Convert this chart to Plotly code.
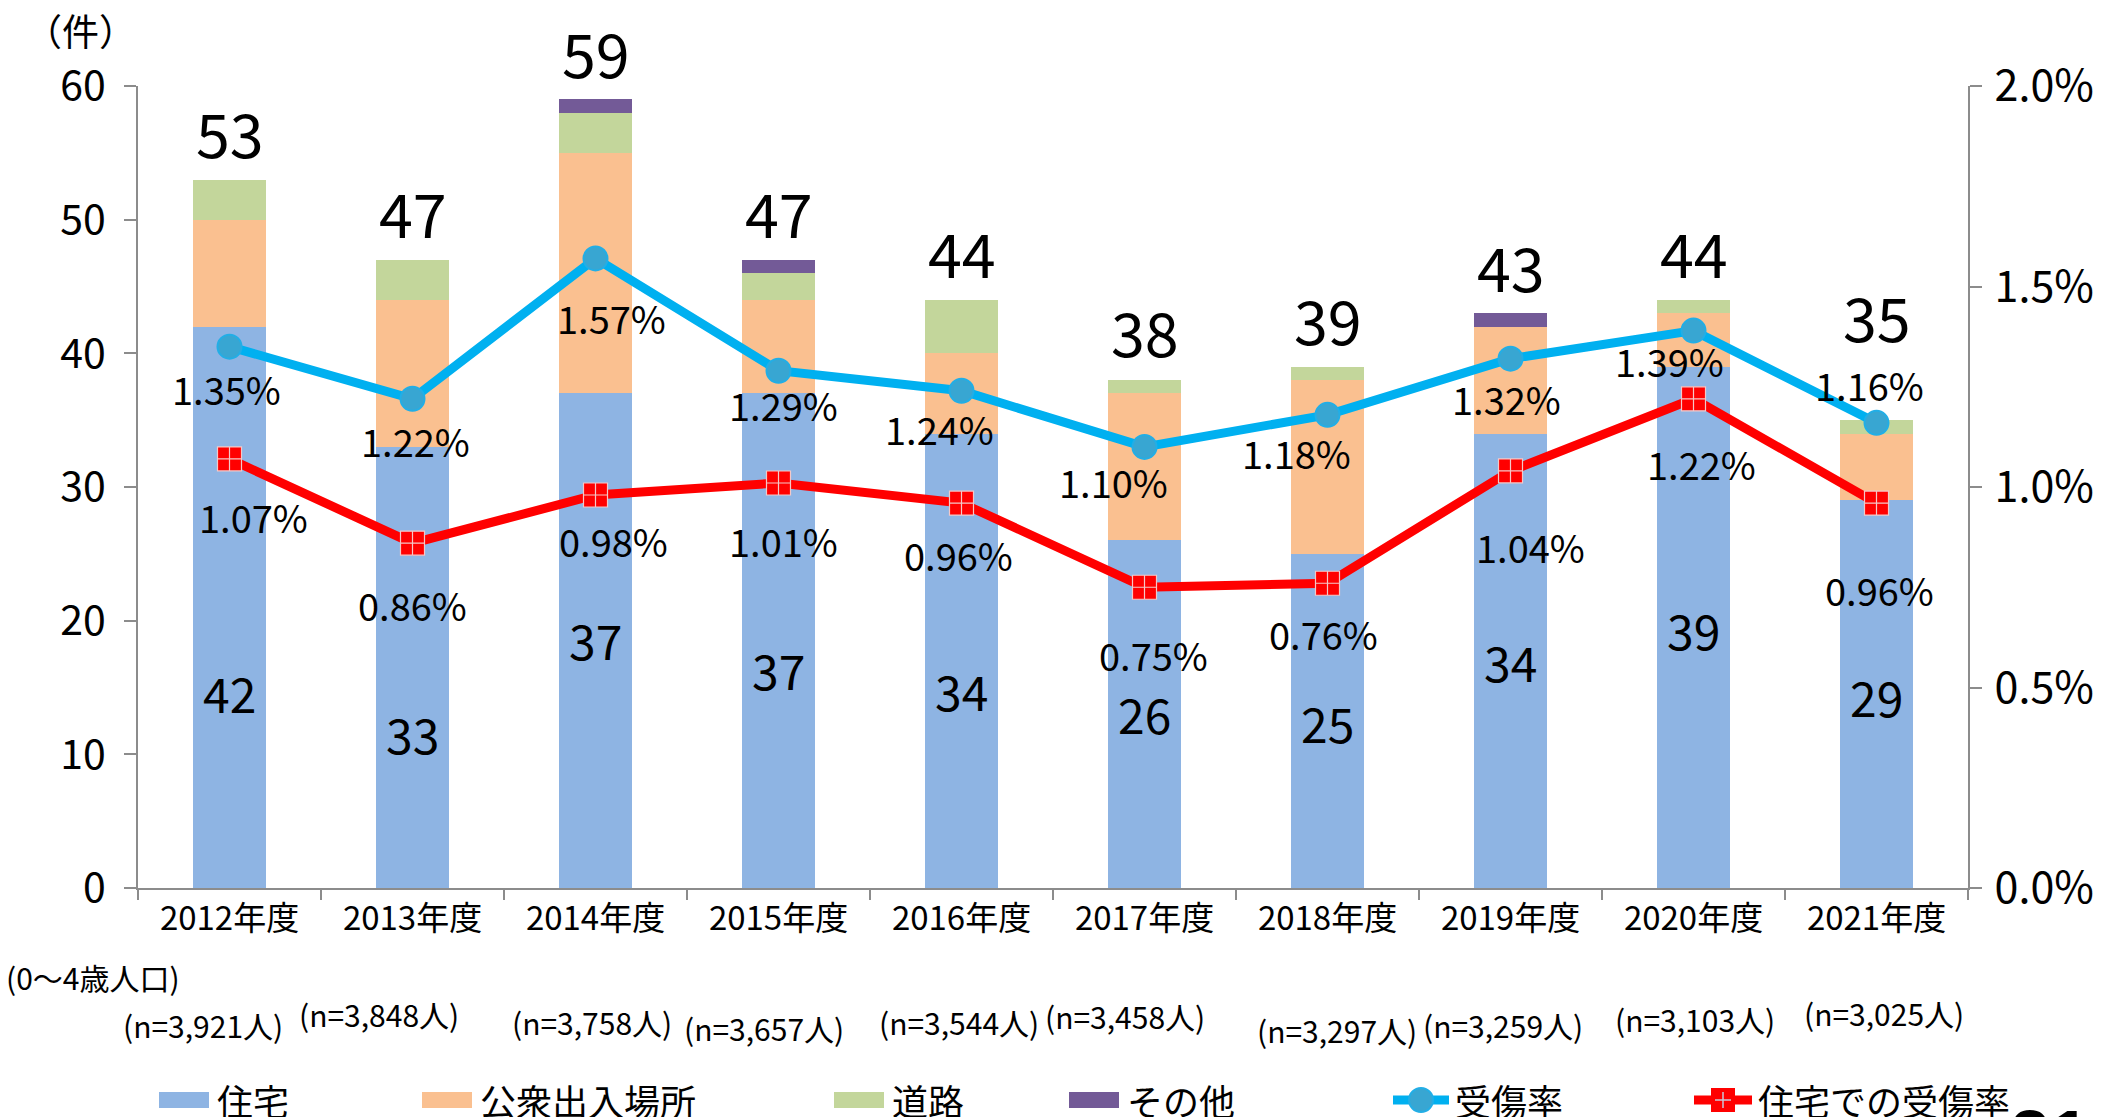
import plotly.graph_objects as go

# ---------------- data ----------------
years = ["2012年度", "2013年度", "2014年度", "2015年度", "2016年度",
         "2017年度", "2018年度", "2019年度", "2020年度", "2021年度"]
house = [42, 33, 37, 37, 34, 26, 25, 34, 39, 29]          # 住宅
public = [8, 11, 18, 7, 6, 11, 13, 8, 4, 5]                # 公衆出入場所
road = [3, 3, 3, 2, 4, 1, 1, 0, 1, 1]                      # 道路
other = [0, 0, 1, 1, 0, 0, 0, 1, 0, 0]                     # その他
rate_all = [1.35, 1.22, 1.57, 1.29, 1.24, 1.10, 1.18, 1.32, 1.39, 1.16]     # 受傷率 (%)
rate_house = [1.07, 0.86, 0.98, 1.01, 0.96, 0.75, 0.76, 1.04, 1.22, 0.96]   # 住宅での受傷率 (%)
population = ["3,921", "3,848", "3,758", "3,657", "3,544",
              "3,458", "3,297", "3,259", "3,103", "3,025"]                 # 0〜4歳人口

totals = [a + b + c + d for a, b, c, d in zip(house, public, road, other)]

# ---------------- styles / label placement ----------------
FONT = "Noto Sans CJK JP"
C_HOUSE, C_PUBLIC, C_ROAD, C_OTHER = "#8EB4E3", "#FAC090", "#C3D69B", "#735A97"
C_RATE, C_RATE_H = "#00B0F0", "#FF0000"
AXIS = "#8C8C8C"

W, H = 2116, 1117
ML, MR, MT, MB = 138, 148, 86, 229
PW, PH = W - ML - MR, H - MT - MB


def px_x(p):  # pixel -> paper x
    return (p - ML) / PW


def px_y(p):  # pixel -> paper y
    return (H - MB - p) / PH


total_yshift = [48, 48, 48, 48, 48, 50, 48, 48, 48, 105]
house_label_y = [14.7, 11.6, 18.6, 16.4, 14.8, 13.1, 12.4, 17.0, 19.4, 14.4]
rate_dx = [-3, 3, 16, 5, -22, -31, -31, -4, -24, -7]
rate_dy = [42, 42, 59, 34, 38, 35, 38, 40, 30, -38]
rateh_dx = [24, 0, 18, 5, -3, 9, -4, 20, 8, 3]
rateh_dy = [58, 61, 45, 58, 51, 67, 50, 76, 65, 86]
n_dx = [-27, -34, -4, -15, -3, -20, 9, -8, 1, 7]
n_dy = [3, -8, 0, 6, 0, -6, 8, 3, -3, -9]

bar_series = [("住宅", house, C_HOUSE), ("公衆出入場所", public, C_PUBLIC),
              ("道路", road, C_ROAD), ("その他", other, C_OTHER)]

fig = go.Figure()
for name, vals, col in bar_series:
    fig.add_trace(go.Bar(x=years, y=vals, name=name, marker=dict(color=col, line=dict(width=0)),
                         yaxis="y"))

fig.add_trace(go.Scatter(
    x=years, y=rate_all, name="受傷率", mode="lines+markers", yaxis="y2",
    line=dict(color=C_RATE, width=9),
    marker=dict(symbol="circle", size=24, color="#38A6D2", line=dict(color="#22AEE6", width=2))))
fig.add_trace(go.Scatter(
    x=years, y=rate_house, name="住宅での受傷率", mode="lines+markers", yaxis="y2",
    line=dict(color=C_RATE_H, width=9),
    marker=dict(symbol="square-cross", size=24, color=C_RATE_H,
                line=dict(color="#F4C8C8", width=1.2))))

ann = []
for i, y in enumerate(years):
    ann.append(dict(x=y, y=totals[i], xref="x", yref="y", text=str(totals[i]), showarrow=False,
                    xanchor="center", yanchor="middle", yshift=total_yshift[i],
                    font=dict(size=61, color="#000", family=FONT)))
    ann.append(dict(x=y, y=house_label_y[i], xref="x", yref="y", text=str(house[i]), showarrow=False,
                    xanchor="center", yanchor="middle",
                    font=dict(size=48, color="#000", family=FONT)))
    ann.append(dict(x=y, y=rate_all[i], xref="x", yref="y2", text=f"{rate_all[i]:.2f}%",
                    showarrow=False, xanchor="center", yanchor="middle",
                    xshift=rate_dx[i], yshift=-rate_dy[i],
                    font=dict(size=38, color="#000", family=FONT)))
    ann.append(dict(x=y, y=rate_house[i], xref="x", yref="y2", text=f"{rate_house[i]:.2f}%",
                    showarrow=False, xanchor="center", yanchor="middle",
                    xshift=rateh_dx[i], yshift=-rateh_dy[i],
                    font=dict(size=38, color="#000", family=FONT)))
    ann.append(dict(x=y, y=px_y(1022), xref="x", yref="paper", text=f"(n={population[i]}人)",
                    showarrow=False, xanchor="center", yanchor="middle",
                    xshift=n_dx[i], yshift=-n_dy[i], borderpad=0,
                    font=dict(size=30, color="#000", family=FONT)))

ann.append(dict(x=px_x(80), y=px_y(30), xref="paper", yref="paper", text="（件）", showarrow=False,
                xanchor="center", yanchor="middle", font=dict(size=37, color="#000", family=FONT)))
ann.append(dict(x=px_x(4), y=px_y(977), xref="paper", yref="paper", text="(0〜4歳人口)",
                xanchor="left", yanchor="middle", showarrow=False,
                font=dict(size=30, color="#000", family=FONT)))
ann.append(dict(x=px_x(2050), y=px_y(1094), xref="paper", yref="paper", text="<b>21</b>",
                xanchor="center", yanchor="top", showarrow=False,
                font=dict(size=72, color="#000", family="Liberation Sans")))

# ---------------- hand-drawn legend (bottom, partly cut like the original) ----------------
LEG_Y = 1100
shapes = []
leg_bar_x = [159, 422, 834, 1069]
for (name, _, col), sx in zip(bar_series, leg_bar_x):
    shapes.append(dict(type="rect", xref="paper", yref="paper", xsizemode="pixel", ysizemode="pixel",
                       xanchor=px_x(sx), yanchor=px_y(LEG_Y), x0=0, x1=50, y0=-8, y1=8,
                       fillcolor=col, line=dict(width=0)))
    ann.append(dict(x=px_x(sx + 56), y=px_y(LEG_Y), xref="paper", yref="paper", text=name,
                    xanchor="left", yanchor="middle", showarrow=False,
                    font=dict(size=36, color="#000", family=FONT)))

# 受傷率
lx = 1393
shapes.append(dict(type="line", xref="paper", yref="paper", xsizemode="pixel", ysizemode="pixel",
                   xanchor=px_x(lx), yanchor=px_y(LEG_Y), x0=0, x1=56, y0=0, y1=0,
                   line=dict(color=C_RATE, width=9)))
shapes.append(dict(type="circle", xref="paper", yref="paper", xsizemode="pixel", ysizemode="pixel",
                   xanchor=px_x(lx + 28), yanchor=px_y(LEG_Y), x0=-12, x1=12, y0=-12, y1=12,
                   fillcolor="#38A6D2", line=dict(color="#22AEE6", width=2)))
ann.append(dict(x=px_x(lx + 60), y=px_y(LEG_Y), xref="paper", yref="paper", text="受傷率",
                xanchor="left", yanchor="middle", showarrow=False,
                font=dict(size=36, color="#000", family=FONT)))

# 住宅での受傷率
lx = 1694
shapes.append(dict(type="line", xref="paper", yref="paper", xsizemode="pixel", ysizemode="pixel",
                   xanchor=px_x(lx), yanchor=px_y(LEG_Y), x0=0, x1=58, y0=0, y1=0,
                   line=dict(color=C_RATE_H, width=9)))
shapes.append(dict(type="rect", xref="paper", yref="paper", xsizemode="pixel", ysizemode="pixel",
                   xanchor=px_x(lx + 29), yanchor=px_y(LEG_Y), x0=-12, x1=12, y0=-12, y1=12,
                   fillcolor=C_RATE_H, line=dict(width=0)))
for (a0, a1, b0, b1) in [(-8, 8, 0, 0), (0, 0, -8, 8)]:
    shapes.append(dict(type="line", xref="paper", yref="paper", xsizemode="pixel", ysizemode="pixel",
                       xanchor=px_x(lx + 29), yanchor=px_y(LEG_Y), x0=a0, x1=a1, y0=b0, y1=b1,
                       line=dict(color="#C8C8D8", width=1.5)))
ann.append(dict(x=px_x(lx + 62), y=px_y(LEG_Y), xref="paper", yref="paper", text="住宅での受傷率",
                xanchor="left", yanchor="middle", showarrow=False,
                font=dict(size=36, color="#000", family=FONT)))

fig.update_layout(
    width=W, height=H,
    margin=dict(l=ML, r=MR, t=MT, b=MB),
    paper_bgcolor="white", plot_bgcolor="white",
    barmode="stack", bargap=0.6,
    font=dict(family=FONT, color="#000"),
    showlegend=False,
    xaxis=dict(type="category", range=[-0.5, 9.5], showline=True, linecolor=AXIS, linewidth=2,
               ticks="outside", tickson="boundaries", ticklen=10, tickcolor=AXIS, tickwidth=2,
               showgrid=False, tickfont=dict(size=33, family=FONT, color="#000")),
    yaxis=dict(range=[0, 60], dtick=10, showline=True, linecolor=AXIS, linewidth=2,
               ticks="outside", ticklen=12, tickcolor=AXIS, tickwidth=2, showgrid=False,
               zeroline=False, ticklabelstandoff=10,
               tickfont=dict(size=41, family=FONT, color="#000")),
    yaxis2=dict(range=[0, 2.0], dtick=0.5, tickformat=".1f", ticksuffix="%", overlaying="y",
                side="right", showline=True, linecolor=AXIS, linewidth=2, ticks="outside",
                ticklen=12, tickcolor=AXIS, tickwidth=2, showgrid=False, zeroline=False,
                ticklabelstandoff=4, tickfont=dict(size=43, family=FONT, color="#000")),
    annotations=ann,
    shapes=shapes,
)

fig.write_html("out.html", config={"displayModeBar": False},
               post_script="document.body.style.margin='0';document.body.style.overflow='hidden';")
